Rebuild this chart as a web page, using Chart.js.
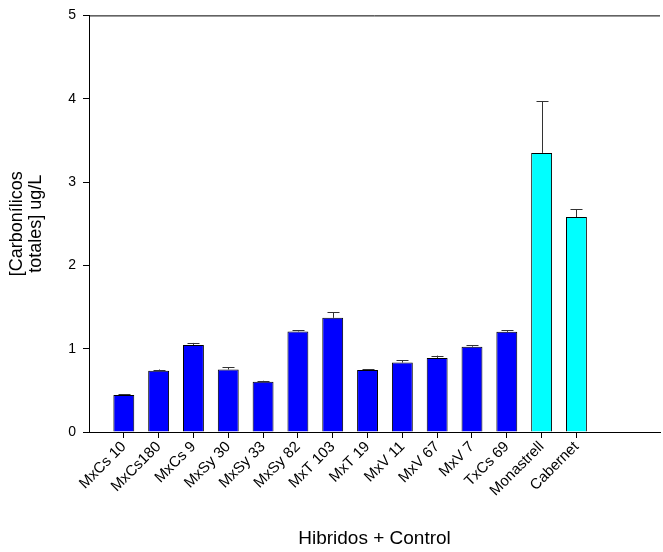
<!DOCTYPE html>
<html>
<head>
<meta charset="utf-8">
<script src="https://cdn.jsdelivr.net/npm/chart.js@4.4.1/dist/chart.umd.min.js"></script>
<style>
  html, body { margin: 0; padding: 0; background: #fff; }
  #wrap { width: 663px; height: 552px; }
</style>
</head>
<body>
<div id="wrap"><canvas id="chart" width="663" height="552"></canvas></div>
<script>
const categories = ['MxCs 10', 'MxCs180', 'MxCs 9', 'MxSy 30', 'MxSy 33', 'MxSy 82', 'MxT 103',
  'MxT 19', 'MxV 11', 'MxV 67', 'MxV 7', 'TxCs 69', 'Monastrell', 'Cabernet']
const means = [0.445, 0.735, 1.045, 0.75, 0.603, 1.207, 1.37, 0.743, 0.833, 0.889, 1.024, 1.202, 3.35, 2.58]
const errors = [0.01, 0.015, 0.024, 0.028, 0.012, 0.012, 0.07, 0.012, 0.029, 0.028, 0.02, 0.02, 0.62, 0.095]
const yTicks = [0, 1, 2, 3, 4, 5]

const colors = categories.map((c, i) => i < 12 ? '#0000ff' : '#00ffff')

// draws the upper error bars and the top frame line
const errorBars = {
  id: 'errorBars',
  afterDatasetsDraw(chart) {
    const ctx = chart.ctx
    const x = chart.scales.x
    const y = chart.scales.y
    ctx.save()
    ctx.strokeStyle = '#333'
    ctx.lineWidth = 1
    means.forEach((m, i) => {
      const px = Math.round(x.getPixelForValue(i)) + 0.5
      const y0 = y.getPixelForValue(m)
      const y1 = y.getPixelForValue(m + errors[i])
      ctx.beginPath()
      ctx.moveTo(px, y0)
      ctx.lineTo(px, y1)
      ctx.moveTo(px - 6, Math.round(y1) + 0.5)
      ctx.lineTo(px + 6, Math.round(y1) + 0.5)
      ctx.stroke()
    })
    const a = chart.chartArea
    ctx.strokeStyle = '#000'
    ctx.beginPath()
    ctx.moveTo(a.left, a.top + 0.5)
    ctx.lineTo(a.right, a.top + 0.5)
    ctx.stroke()
    ctx.restore()
  }
}

const ctx = document.getElementById('chart').getContext('2d')
new Chart(ctx, {
  type: 'bar',
  data: {
    datasets: [{
      data: means.map((v, i) => ({ x: i, y: v })),
      backgroundColor: colors,
      borderColor: '#000',
      borderWidth: 1,
      borderSkipped: 'bottom',
      barPercentage: 0.6,
      categoryPercentage: 1
    }]
  },
  plugins: [errorBars],
  options: {
    responsive: false,
    animation: false,
    layout: { padding: { top: 14, right: 3, left: 0, bottom: 0 } },
    plugins: {
      legend: { display: false },
      tooltip: { enabled: false }
    },
    scales: {
      x: {
        type: 'linear',
        min: -1,
        max: 15.4,
        offset: false,
        afterBuildTicks: s => { s.ticks = categories.map((c, i) => ({ value: i })) },
        afterFit: s => { s.height = 120 },
        grid: { offset: false, drawOnChartArea: false, tickLength: 6, color: '#000' },
        border: { color: '#000', width: 1 },
        ticks: {
          autoSkip: false,
          minRotation: 45,
          maxRotation: 45,
          padding: 0,
          color: '#000',
          font: { family: 'Liberation Sans', size: 15 },
          callback: v => categories[v]
        },
        title: {
          display: true,
          text: 'Hibridos + Control',
          color: '#000',
          font: { family: 'Liberation Sans', size: 19 },
          padding: { top: 0, bottom: 2 }
        }
      },
      y: {
        min: 0,
        max: 5,
        afterBuildTicks: s => { s.ticks = yTicks.map(v => ({ value: v })) },
        afterFit: s => { s.width = 89 },
        grid: { drawOnChartArea: false, tickLength: 6, color: '#000' },
        border: { color: '#000', width: 1 },
        ticks: {
          padding: 7,
          color: '#000',
          font: { family: 'Liberation Sans', size: 14 }
        },
        title: {
          display: true,
          text: ['[Carbonílicos', 'totales] ug/L'],
          color: '#000',
          font: { family: 'Liberation Sans', size: 18, lineHeight: 1.05 },
          padding: { top: 8, bottom: 0 }
        }
      }
    }
  }
})
</script>
</body>
</html>
